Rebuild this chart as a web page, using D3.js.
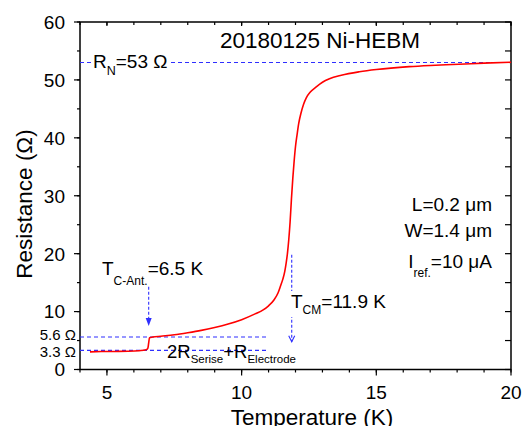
<!DOCTYPE html>
<html><head><meta charset="utf-8">
<script src="https://cdn.jsdelivr.net/npm/d3@7/dist/d3.min.js"></script>
<style>
body{margin:0;background:#fff;}
text{font-family:"Liberation Sans",Arial,sans-serif;fill:#000;}
</style></head>
<body>
<svg id="c" width="523" height="426"></svg>
<script>
// ---- data ----
const temperature = [4.37,4.8,5.3,5.8,6.2,6.45,6.52,6.55,6.58,6.7,7.0,7.5,8.0,8.5,9.0,9.5,10.0,10.5,10.8,11.0,11.2,11.35,11.45,11.53,11.6,11.65,11.7,11.75,11.8,11.85,11.9,11.95,12.0,12.06,12.12,12.2,12.3,12.4,12.55,12.77,13.0,13.26,13.7,14.37,15.0,16.22,17.0,18.07,19.0,20.0];
const resistance  = [3.05,3.1,3.12,3.15,3.25,3.4,3.7,4.6,5.5,5.6,5.75,6.0,6.35,6.75,7.25,7.85,8.6,9.6,10.3,11.0,12.0,13.2,14.5,15.6,16.9,18.3,20.0,22.4,25.5,29.5,33.0,36.0,38.5,40.6,42.5,44.2,45.8,46.9,47.9,48.8,49.6,50.2,50.8,51.4,51.8,52.3,52.5,52.7,52.9,53.05];
const xTicks = [5,10,15,20];
const yTicks = [0,10,20,30,40,50,60];
const normalResistance = 53;          // R_N
const contactLevels = [5.6, 3.3];     // dashed reference levels
const contactLabels = ["5.6 Ω","3.3 Ω"];
const contactLineEnd = 11;            // K
const tcAnt = 6.55, tcAntArrow = [14.3, 7.5];
const tcm = 11.86, tcmArrow = [19.8, 4.8];

const svg = d3.select("#c");
const L=80,R=511,T=22,B=369.5;
const x = d3.scaleLinear().domain([4,20]).range([L,R]);
const y = d3.scaleLinear().domain([0,60]).range([B,T]);
const blue = "#2f2fff";
const minorX = d3.range(4,21,1), minorY = d3.range(0,61,5);

// ticks
function ticks(vals, isX, len, dir, pos){
  svg.append("g").selectAll("line").data(vals).join("line")
    .attr("x1",d=>isX?x(d):pos).attr("x2",d=>isX?x(d):pos+dir*len)
    .attr("y1",d=>isX?pos:y(d)).attr("y2",d=>isX?pos+dir*len:y(d))
    .attr("stroke","#000").attr("stroke-width",1.2);
}
ticks(minorX,true,3,1,B); ticks(xTicks,true,6,1,B);
ticks(minorX,true,3,1,T); ticks(xTicks,true,4,1,T);
ticks(minorY,false,3,-1,L); ticks(yTicks,false,6,-1,L);
ticks(minorY,false,6,-1,R);

// frame
svg.append("rect").attr("x",L).attr("y",T).attr("width",R-L).attr("height",B-T)
  .attr("fill","none").attr("stroke","#000").attr("stroke-width",1.5);

// tick labels
svg.append("g").selectAll("text").data(xTicks).join("text")
  .attr("x",d=>x(d)).attr("y",B+29).attr("text-anchor","middle")
  .attr("font-size",19).text(d=>d);
svg.append("g").selectAll("text").data(yTicks).join("text")
  .attr("x",L-15).attr("y",d=>y(d)).attr("dy","0.36em").attr("text-anchor","end")
  .attr("font-size",19).text(d=>d);

// axis titles
svg.append("text").attr("x",312).attr("y",425).attr("text-anchor","middle")
  .attr("font-size",22.5).text("Temperature (K)");
svg.append("text").attr("transform","translate(32,204) rotate(-90)").attr("text-anchor","middle")
  .attr("font-size",22.5).text("Resistance (Ω)");

// reference lines
svg.append("line").attr("x1",L).attr("x2",R).attr("y1",y(normalResistance)).attr("y2",y(normalResistance))
  .attr("stroke",blue).attr("stroke-width",1.1).attr("stroke-dasharray","4,3");
svg.append("g").selectAll("line").data(contactLevels).join("line")
  .attr("x1",L).attr("x2",x(contactLineEnd)).attr("y1",d=>y(d)).attr("y2",d=>y(d))
  .attr("stroke",blue).attr("stroke-width",1.1).attr("stroke-dasharray","4,3");
svg.append("g").selectAll("text").data(contactLevels).join("text")
  .attr("x",76).attr("y",(d,i)=>y(d)+(i===0?3:6.5)).attr("text-anchor","end").attr("font-size",15)
  .attr("font-family","Liberation Serif, Times New Roman, serif")
  .text((d,i)=>contactLabels[i]);

// curve
svg.append("path").datum(temperature.map((t,i)=>[t,resistance[i]]))
  .attr("d",d3.line().x(d=>x(d[0])).y(d=>y(d[1])).curve(d3.curveMonotoneX))
  .attr("fill","none").attr("stroke","#ff0000").attr("stroke-width",1.6);

// arrows
svg.append("line").attr("x1",x(tcAnt)).attr("x2",x(tcAnt)).attr("y1",y(tcAntArrow[0])).attr("y2",y(tcAntArrow[1])-6)
  .attr("stroke",blue).attr("stroke-width",1.1).attr("stroke-dasharray","3,2");
svg.append("path").attr("d",`M${x(tcAnt)-3},${y(tcAntArrow[1])-8}L${x(tcAnt)+3},${y(tcAntArrow[1])-8}L${x(tcAnt)},${y(tcAntArrow[1])}Z`)
  .attr("fill",blue);
svg.append("line").attr("x1",x(tcm)).attr("x2",x(tcm)).attr("y1",y(tcmArrow[0])).attr("y2",y(tcmArrow[1]))
  .attr("stroke",blue).attr("stroke-width",1.1).attr("stroke-dasharray","3,2");
svg.append("path").attr("d",`M${x(tcm)-3},${y(tcmArrow[1])-6}L${x(tcm)},${y(tcmArrow[1])}L${x(tcm)+3},${y(tcmArrow[1])-6}`)
  .attr("fill","none").attr("stroke",blue).attr("stroke-width",1.1);

// annotation text helper
function sub(xp, yp, parts, anchor, bg){
  const t = svg.append("text").attr("x",xp).attr("y",yp).attr("font-size",19)
    .attr("text-anchor",anchor||"start");
  let prev=0;
  parts.forEach(p=>{
    const off = p.sub ? p.sub : 0;
    t.append("tspan").attr("dy",off-prev).attr("font-size",p.size||19).text(p.t);
    prev=off;
  });
  if(bg){
    const bb=t.node().getBBox();
    svg.insert("rect",function(){return t.node();}).attr("x",bb.x-1).attr("y",bb.y).attr("width",bb.width+2)
      .attr("height",bb.height).attr("fill","#fff");
  }
  return t;
}
sub(93,68,[{t:"R"},{t:"N",sub:7,size:12.5},{t:"=53 Ω"}],"start",true);
svg.append("text").attr("x",320).attr("y",48).attr("text-anchor","middle").attr("font-size",22.5).text("20180125 Ni-HEBM");
sub(492,211,[{t:"L=0.2 μm"}],"end");
sub(492,237,[{t:"W=1.4 μm"}],"end");
sub(492,268,[{t:"I"},{t:"ref.",sub:9,size:12},{t:"=10 μA"}],"end");
sub(102,275,[{t:"T"},{t:"C-Ant.",sub:10,size:12},{t:"=6.5 K"}],"start");
sub(291,308,[{t:"T"},{t:"CM",sub:6,size:12},{t:"=11.9 K"}],"start",true);
sub(167,358,[{t:"2R",size:18.5},{t:"Serise",sub:5,size:11.5},{t:"+R",size:18.5},{t:"Electrode",sub:5,size:11.5}],"start");
</script>
</body></html>
